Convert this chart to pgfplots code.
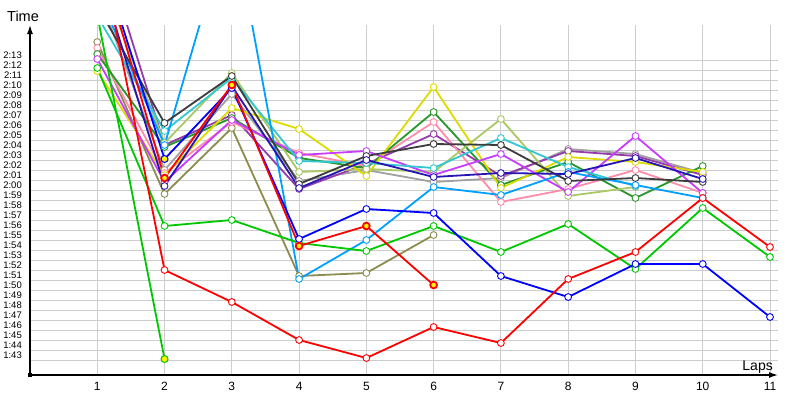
\documentclass[border=0pt]{standalone}
\usepackage{fontspec}
\setmainfont{Liberation Sans}
\usepackage{pgfplots}
\pgfplotsset{compat=1.18}
\usetikzlibrary{arrows.meta}

\definecolor{cRed}{RGB}{255,0,0}
\definecolor{cBlue}{RGB}{0,0,255}
\definecolor{cNavy}{RGB}{40,20,180}
\definecolor{cGreen}{RGB}{0,200,0}
\definecolor{cDkGreen}{RGB}{40,150,40}
\definecolor{cLtGreen}{RGB}{170,200,100}
\definecolor{cLtBlue}{RGB}{0,160,255}
\definecolor{cCyan}{RGB}{50,200,210}
\definecolor{cYellow}{RGB}{220,220,0}
\definecolor{cViolet}{RGB}{200,60,255}
\definecolor{cPurple}{RGB}{150,60,170}
\definecolor{cPink}{RGB}{255,140,170}
\definecolor{cGray}{RGB}{160,160,160}
\definecolor{cBlack}{RGB}{60,60,60}
\definecolor{cOlive}{RGB}{140,140,80}
\definecolor{gridgray}{RGB}{205,205,205}

\pgfplotsset{
  lap/.style={#1, line width=1.8pt, mark=*, mark size=3.4pt,
              mark options={solid, fill=white, line width=0.9pt}},
  lapy/.style={#1, only marks, mark=*, mark size=3.4pt,
              mark options={solid, fill=yellow, line width=0.9pt}},
}

\begin{document}
\begin{tikzpicture}
\useasboundingbox (-30pt,-25pt) rectangle (770pt,375pt);
\begin{axis}[
  at={(0,0)}, anchor=south west,
  scale only axis, width=748pt, height=350pt,
  xmin=0, xmax=11.119, ymin=101.5, ymax=136.5,
  axis lines=left,
  axis line style={line width=1.3pt, -{Latex[length=9pt,width=6pt]}},
  xtick={1,...,11},
  xticklabels={1,2,3,4,5,6,7,8,9,10,11},
  ytick={103,...,133},
  yticklabels={1:43,1:44,1:45,1:46,1:47,1:48,1:49,1:50,1:51,1:52,1:53,1:54,1:55,1:56,1:57,1:58,1:59,
               2:00,2:01,2:02,2:03,2:04,2:05,2:06,2:07,2:08,2:09,2:10,2:11,2:12,2:13},
  major tick length=0pt,
  xmajorgrids, ymajorgrids,
  grid style={gridgray, line width=0.9pt},
  /pgf/number format/assume math mode=true,
  yticklabel style={font=\fontsize{9.5}{10}\selectfont, anchor=base east, inner sep=0pt, xshift=-8pt, yshift=1.5pt},
  xticklabel style={font=\fontsize{12}{13}\selectfont, anchor=north, inner sep=0pt, yshift=-7pt},
  xlabel={Laps},
  xlabel style={font=\fontsize{14}{15}\selectfont, at={(axis description cs:1,0)}, anchor=base east, inner sep=0pt, xshift=-5pt, yshift=5pt},
  ylabel={Time},
  ylabel style={rotate=-90, font=\fontsize{14.5}{15}\selectfont, at={(axis description cs:0,1)}, anchor=base west, inner sep=0pt, xshift=-23pt, yshift=4pt},
]
% olive
\addplot[lap=cOlive] coordinates {(1,134.8) (2,119.6) (3,126.2) (4,111.4) (5,111.7) (6,115.5)};
% gray
\addplot[lap=cGray] coordinates {(1,139.9) (2,122.0) (3,129.6) (4,120.9) (5,122.0) (6,120.8) (7,121.2) (8,124.1) (9,123.6) (10,121.7)};
% purple
\addplot[lap=cPurple] coordinates {(1,146.0) (2,124.5) (3,127.5) (4,120.1) (5,122.6) (6,125.6) (7,121.4) (8,123.9) (9,123.4) (10,121.5)};
% pink
\addplot[lap=cPink] coordinates {(1,134.2) (2,121.7) (3,126.8) (4,123.7) (5,122.4) (6,126.8) (7,118.8) (8,120.1) (9,122.0) (10,119.7)};
% dark green
\addplot[lap=cDkGreen] coordinates {(1,133.6) (2,124.3) (3,127.2) (4,123.2) (5,122.2) (6,127.8) (7,120.5) (8,122.8) (9,119.2) (10,122.4)};
% light green
\addplot[lap=cLtGreen] coordinates {(1,142.1) (2,124.7) (3,131.7) (4,121.8) (5,122.1) (6,121.8) (7,127.1) (8,119.4) (9,120.3)};
% yellow
\addplot[lap=cYellow] coordinates {(1,131.9) (2,121.5) (3,128.2) (4,126.1) (5,121.4) (6,130.3) (7,120.2) (8,123.3) (9,122.8) (10,121.8)};
% violet
\addplot[lap=cViolet] coordinates {(1,133.1) (2,120.8) (3,127.0) (4,123.5) (5,123.9) (6,121.5) (7,123.6) (8,119.8) (9,125.4) (10,119.7)};
% cyan
\addplot[lap=cCyan] coordinates {(1,137.4) (2,125.9) (3,131.2) (4,122.9) (5,122.7) (6,122.2) (7,125.2) (8,122.3) (9,120.4)};
% light blue
\addplot[lap=cLtBlue] coordinates {(1,139.9) (2,124.5) (3,147.5) (4,111.1) (5,115.0) (6,120.3) (7,119.5) (8,121.8) (9,120.5) (10,119.2)};
% dark gray
\addplot[lap=cBlack] coordinates {(1,138.4) (2,126.7) (3,131.4) (4,120.6) (5,123.4) (6,124.6) (7,124.5) (8,120.9) (9,121.2) (10,120.8)};
% navy
\addplot[lap=cNavy] coordinates {(1,142.3) (2,120.4) (3,130.4) (4,120.2) (5,123.0) (6,121.3) (7,121.7) (8,121.6) (9,123.2) (10,121.1)};
% green, long
\addplot[lap=cGreen] coordinates {(1,132.2) (2,116.4) (3,117.0) (4,114.7) (5,113.9) (6,116.4) (7,113.8) (8,116.6) (9,112.1) (10,118.2) (11,113.3)};
% green, stops at lap 2
\addplot[lap=cGreen] coordinates {(1,137.5) (2,103.1)};
\addplot[lapy=cGreen] coordinates {(2,103.1)};
% blue, long
\addplot[lap=cBlue] coordinates {(1,144.3) (2,123.1) (3,130.2) (4,115.1) (5,118.1) (6,117.7) (7,111.4) (8,109.3) (9,112.6) (10,112.6) (11,107.3)};
\addplot[lapy=cBlue] coordinates {(2,123.1)};
% red, stops at lap 6
\addplot[lap=cRed, mark options={fill=yellow}] coordinates {(1,144.3) (2,121.2) (3,130.5) (4,114.4) (5,116.4) (6,110.5)};
% red, long
\addplot[lap=cRed] coordinates {(1,145.3) (2,112.0) (3,108.8) (4,105.0) (5,103.2) (6,106.3) (7,104.7) (8,111.1) (9,113.8) (10,119.2) (11,114.3)};
\end{axis}
\fill[black] (-2pt,-2pt) rectangle (2pt,2pt);
\end{tikzpicture}
\end{document}
